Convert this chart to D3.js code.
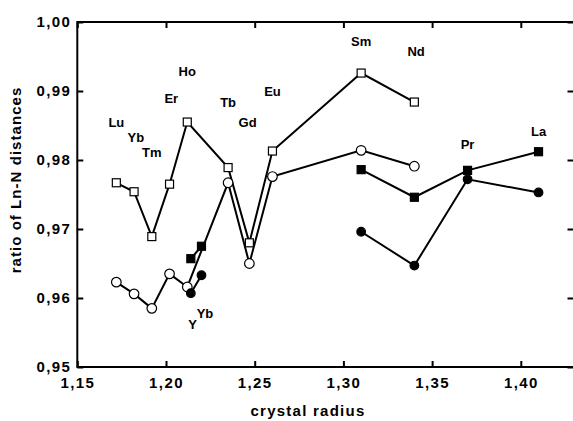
<!DOCTYPE html>
<html><head><meta charset="utf-8">
<script src="https://cdn.jsdelivr.net/npm/d3@7"></script>
<style>
body{margin:0;background:#fff;}
text{font-family:"Liberation Sans",Arial,Helvetica,sans-serif;font-weight:bold;fill:#000;}
</style></head><body>
<svg id="chart" width="573" height="421"></svg>
<script>
// crystal radii
const radiiA = [1.172, 1.182, 1.192, 1.202, 1.212, 1.235, 1.247, 1.26, 1.31, 1.34];
// open squares
const openSquares = [0.9767, 0.9754, 0.9689, 0.9765, 0.9855, 0.9789, 0.9680, 0.9813, 0.9926, 0.9884];
// open circles
const openCircles = [0.9623, 0.9606, 0.9585, 0.9635, 0.9616, 0.9767, 0.9650, 0.9776, 0.9814, 0.9791];
// filled series (two segments each)
const radiiB1 = [1.214, 1.220];
const radiiB2 = [1.31, 1.34, 1.37, 1.41];
const filledSquares1 = [0.9657, 0.9675];
const filledSquares2 = [0.9786, 0.9746, 0.9785, 0.9812];
const filledCircles1 = [0.9607, 0.9633];
const filledCircles2 = [0.9696, 0.9647, 0.9772, 0.9753];
// element labels
const labelText = ["Lu","Yb","Tm","Er","Ho","Tb","Gd","Eu","Sm","Nd","Pr","La","Y","Yb"];
const labelX    = [1.172,1.183,1.192,1.203,1.212,1.235,1.246,1.260,1.310,1.341,1.370,1.410,1.215,1.222];
const labelY    = [0.9855,0.9833,0.9811,0.9889,0.9928,0.9884,0.9855,0.9899,0.9972,0.9957,0.9822,0.9841,0.9562,0.9577];
const xTicks = [1.15, 1.20, 1.25, 1.30, 1.35, 1.40];
const yTicks = [0.95, 0.96, 0.97, 0.98, 0.99, 1.00];

const svg = d3.select("#chart");
const L = 77.3, R = 574.5, T = 22, B = 367;
const x = d3.scaleLinear().domain([1.15, 1.15 + (R - L) / 1774]).range([L, R]);
const y = d3.scaleLinear().domain([0.95, 1.00]).range([B, T]);
const fmt = d => d.toFixed(2).replace(".", ",");

// frame
svg.append("rect").attr("x", L).attr("y", T).attr("width", R - L).attr("height", B - T)
  .attr("fill", "none").attr("stroke", "#000").attr("stroke-width", 2);

// axes with inward ticks
const tk = 6;
const styleText = g => g.selectAll("text").attr("font-size", 15)
  .attr("font-family", "Liberation Sans").attr("font-weight", "bold").attr("letter-spacing", 1.4);
svg.append("g").attr("transform", `translate(0,${B})`)
  .call(d3.axisBottom(x).tickValues(xTicks).tickFormat(fmt).tickSizeInner(-tk).tickSizeOuter(0).tickPadding(10))
  .call(g => g.select(".domain").remove())
  .call(g => g.selectAll("line").attr("stroke-width", 2))
  .call(styleText);
svg.append("g").attr("transform", `translate(0,${T})`)
  .call(d3.axisTop(x).tickValues(xTicks).tickFormat("").tickSizeInner(-tk).tickSizeOuter(0))
  .call(g => g.select(".domain").remove())
  .call(g => g.selectAll("line").attr("stroke-width", 2));
svg.append("g").attr("transform", `translate(${L},0)`)
  .call(d3.axisLeft(y).tickValues(yTicks).tickFormat(fmt).tickSizeInner(-tk).tickSizeOuter(0).tickPadding(6))
  .call(g => g.select(".domain").remove())
  .call(g => g.selectAll("line").attr("stroke-width", 2))
  .call(styleText);
svg.append("g").attr("transform", `translate(${R - 1},0)`)
  .call(d3.axisRight(y).tickValues(yTicks).tickFormat("").tickSizeInner(-tk).tickSizeOuter(0))
  .call(g => g.select(".domain").remove())
  .call(g => g.selectAll("line").attr("stroke-width", 2));

// axis titles
svg.append("text").attr("x", 308).attr("y", 416).attr("text-anchor", "middle")
  .attr("font-size", 15).attr("letter-spacing", 1.25).text("crystal radius");
svg.append("text").attr("transform", "translate(21,180) rotate(-90)").attr("text-anchor", "middle")
  .attr("font-size", 15).attr("letter-spacing", 1.05).text("ratio of Ln-N distances");

const line = d3.line().x(d => x(d[0])).y(d => y(d[1]));
function series(xs, ys, shape, filled) {
  const pts = xs.map((v, i) => [v, ys[i]]);
  svg.append("path").datum(pts).attr("d", line).attr("fill", "none")
    .attr("stroke", "#000").attr("stroke-width", 2);
  const fill = filled ? "#000" : "#fff";
  if (shape === "square") {
    const s = 8;
    svg.append("g").selectAll("rect").data(pts).join("rect")
      .attr("x", d => x(d[0]) - s / 2).attr("y", d => y(d[1]) - s / 2)
      .attr("width", s).attr("height", s)
      .attr("fill", fill).attr("stroke", "#000").attr("stroke-width", 1.2);
  } else {
    svg.append("g").selectAll("circle").data(pts).join("circle")
      .attr("cx", d => x(d[0])).attr("cy", d => y(d[1])).attr("r", filled ? 4.3 : 4.8)
      .attr("fill", fill).attr("stroke", "#000").attr("stroke-width", 1.2);
  }
}
series(radiiA, openSquares, "square", false);
series(radiiA, openCircles, "circle", false);
series(radiiB1, filledSquares1, "square", true);
series(radiiB2, filledSquares2, "square", true);
series(radiiB1, filledCircles1, "circle", true);
series(radiiB2, filledCircles2, "circle", true);

// element labels
svg.append("g").selectAll("text").data(labelText).join("text")
  .attr("x", (d, i) => x(labelX[i])).attr("y", (d, i) => y(labelY[i]))
  .attr("text-anchor", "middle").attr("dominant-baseline", "central")
  .attr("font-size", 13).text(d => d);
</script>
</body></html>
